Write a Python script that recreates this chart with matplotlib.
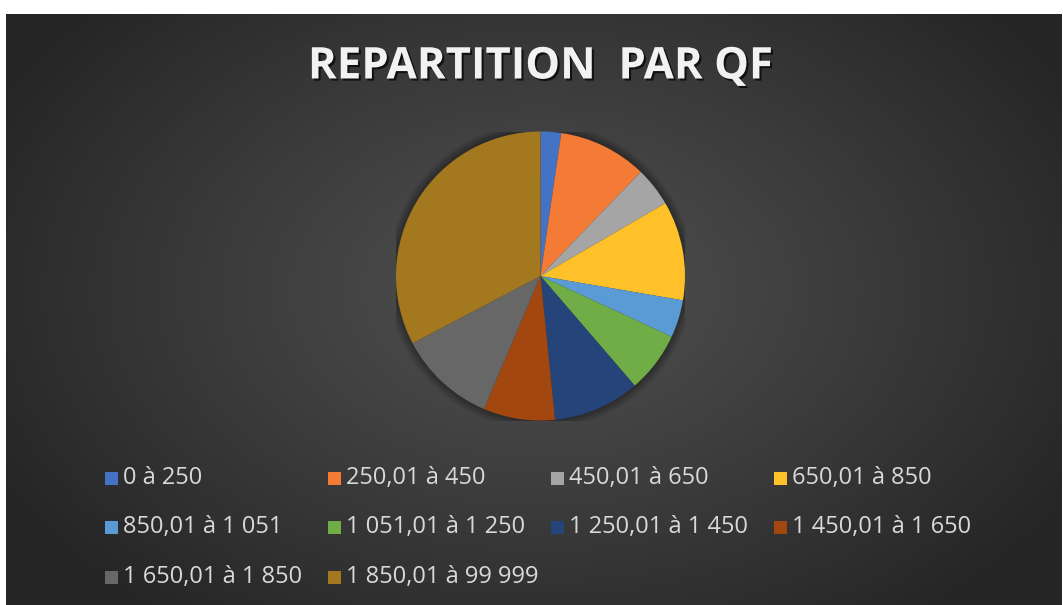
import numpy as np
import matplotlib
matplotlib.use("Agg")
import matplotlib.pyplot as plt
import matplotlib.patheffects as pe
from matplotlib.patches import Rectangle, Circle

# share of each QF band (%)
labels = ["0 à 250", "250,01 à 450", "450,01 à 650", "650,01 à 850",
          "850,01 à 1 051", "1 051,01 à 1 250", "1 250,01 à 1 450",
          "1 450,01 à 1 650", "1 650,01 à 1 850", "1 850,01 à 99 999"]
shares = [2.3, 9.9, 4.4, 11.1, 4.2, 6.8, 9.7, 8.0, 10.9, 32.7]
colors = ["#4472C4", "#F47B35", "#A5A5A5", "#FFC12A", "#5B9BD5",
          "#70AD47", "#254479", "#A2470F", "#676767", "#A4781E"]

W, H = 1063, 605
fig = plt.figure(figsize=(W / 100, H / 100), dpi=100)
fig.patch.set_facecolor("white")

# dark background with radial gradient
x0, y0 = 6, 14
bg = fig.add_axes([x0 / W, 0, (W - x0 - 1) / W, (H - y0) / H])
bg.set_axis_off()
yy, xx = np.mgrid[0:H - y0, 0:W - x0 - 1]
cx, cy = 540 - x0, 290 - y0
r = np.sqrt(((xx - cx) / 620.0) ** 2 + ((yy - cy) / 420.0) ** 2)
r = np.clip(r, 0, 1)
v = 0x50 + (0x25 - 0x50) * r ** 1.1
img = np.dstack([v, v, v]) / 255.0
bg.imshow(img, aspect="auto", interpolation="bilinear")

# title
fig.text(540 / W, 1 - 67 / H, "REPARTITION  PAR QF", ha="center", va="center",
         fontsize=31.5, fontweight="bold", family="Open Sans", color="#F2F2F2",
         path_effects=[pe.withSimplePatchShadow(offset=(1.5, -1.5),
                                                shadow_rgbFace="black", alpha=0.7)])

# pie
pr = 144.5
pcx, pcy = 540.5, 276
ax = fig.add_axes([(pcx - pr) / W, 1 - (pcy + pr) / H, 2 * pr / W, 2 * pr / H])
ax.set_axis_off()
for k in range(6):
    ax.add_patch(Circle((0.0, 0.0), 1.0 + 0.01 * (k + 1), color="black",
                        alpha=0.06, lw=0, zorder=0))
ax.pie(shares, colors=colors, startangle=90, counterclock=False,
       wedgeprops=dict(linewidth=0))
ax.set_xlim(-1, 1)
ax.set_ylim(-1, 1)

# legend, 4 columns x 3 rows
col_x = [111, 334, 557, 780]
row_y = [478, 527, 577]
for i, (lab, col) in enumerate(zip(labels, colors)):
    px = col_x[i % 4]
    py = row_y[i // 4]
    fig.patches.append(Rectangle(((px - 6.5) / W, 1 - (py + 6.5) / H), 13 / W, 13 / H,
                                 transform=fig.transFigure, facecolor=col,
                                 edgecolor="none", figure=fig))
    fig.text((px + 12) / W, 1 - py / H, lab, ha="left", va="center",
             fontsize=17, family="Open Sans", color="#D9D9D9")

fig.savefig("out.png", dpi=100, facecolor=fig.get_facecolor())
